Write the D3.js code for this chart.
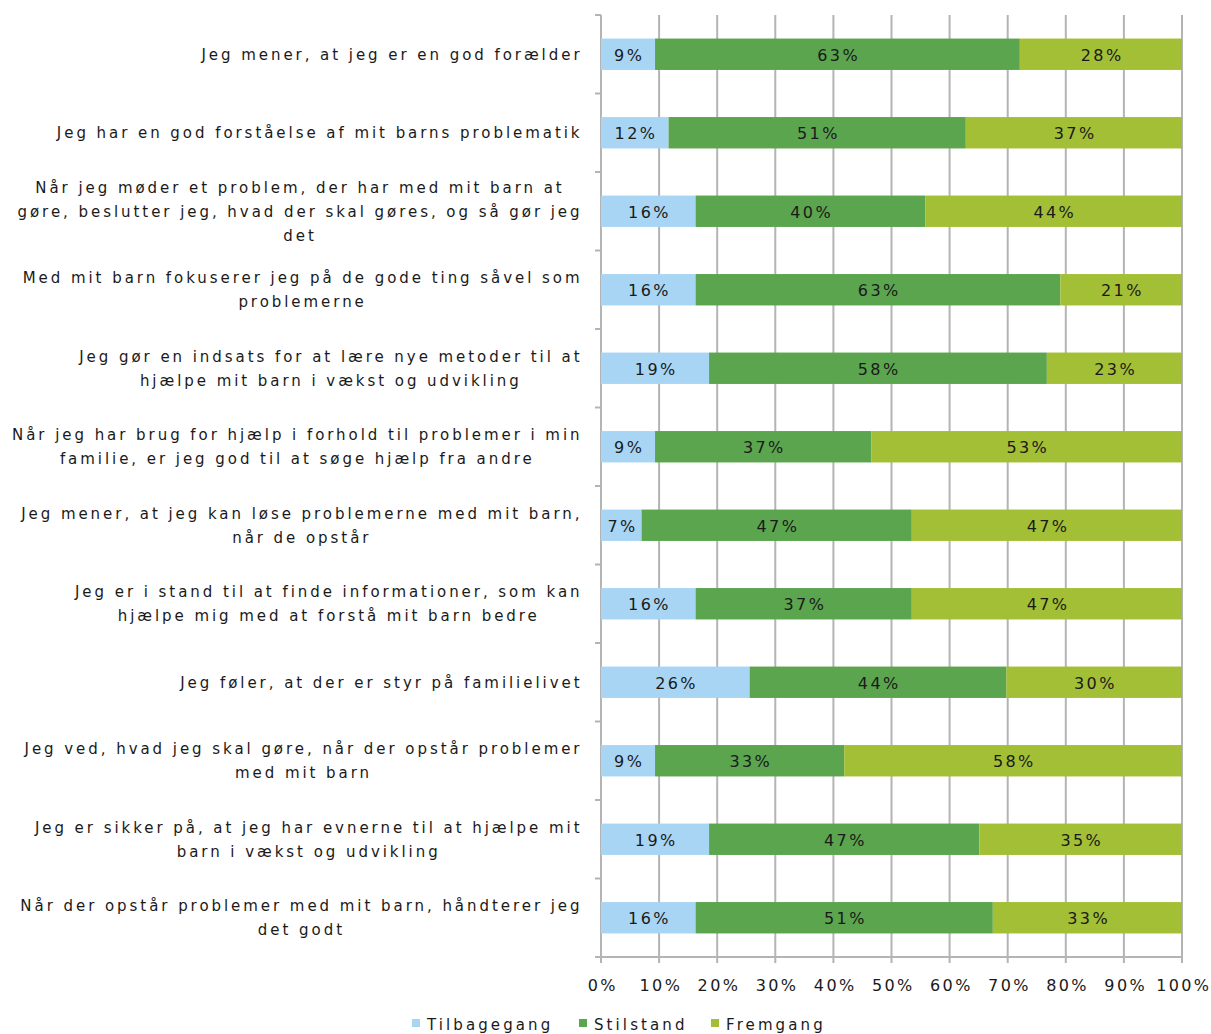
<!DOCTYPE html>
<html><head><meta charset="utf-8">
<script src="https://cdn.jsdelivr.net/npm/d3@7"></script>
<style>
body{margin:0;background:#fff;}
text{font-family:"DejaVu Sans",Verdana,sans-serif;fill:#1a1a1a;}
</style></head>
<body><svg id="c" width="1211" height="1034"></svg>
<script>
const categories = [
  "Jeg mener, at jeg er en god forælder",
  "Jeg har en god forståelse af mit barns problematik",
  "Når jeg møder et problem, der har med mit barn at\ngøre, beslutter jeg, hvad der skal gøres, og så gør jeg\ndet",
  "Med mit barn fokuserer jeg på de gode ting såvel som\nproblemerne",
  "Jeg gør en indsats for at lære nye metoder til at\nhjælpe mit barn i vækst og udvikling",
  "Når jeg har brug for hjælp i forhold til problemer i min\nfamilie, er jeg god til at søge hjælp fra andre",
  "Jeg mener, at jeg kan løse problemerne med mit barn,\nnår de opstår",
  "Jeg er i stand til at finde informationer, som kan\nhjælpe mig med at forstå mit barn bedre",
  "Jeg føler, at der er styr på familielivet",
  "Jeg ved, hvad jeg skal gøre, når der opstår problemer\nmed mit barn",
  "Jeg er sikker på, at jeg har evnerne til at hjælpe mit\nbarn i vækst og udvikling",
  "Når der opstår problemer med mit barn, håndterer jeg\ndet godt"
];
const seriesNames = ["Tilbagegang", "Stilstand", "Fremgang"];
const tilbagegang = [9.30, 11.63, 16.28, 16.28, 18.60, 9.30, 6.98, 16.28, 25.58, 9.30, 18.60, 16.28];
const stilstand   = [62.79, 51.16, 39.53, 62.79, 58.14, 37.21, 46.51, 37.21, 44.19, 32.56, 46.51, 51.16];
const fremgang    = [27.91, 37.21, 44.19, 20.93, 23.26, 53.49, 46.51, 46.51, 30.23, 58.14, 34.88, 32.56];
const tickValues  = [0,10,20,30,40,50,60,70,80,90,100];
const colors = ["#a9d5f5", "#5ba54f", "#a3bf36"];

const svg = d3.select("#c");
const pL = 601, pR = 1182, pT = 15, pB = 957;
const x = d3.scaleLinear().domain([0,100]).range([pL,pR]);
const y = d3.scaleBand().domain(d3.range(categories.length)).range([pT,pB]).paddingInner(0.6).paddingOuter(0.3);
const yb = d3.scaleBand().domain(d3.range(categories.length)).range([pT,pB]);

const rows = categories.map((c,i)=>({i, vals:[tilbagegang[i], stilstand[i], fremgang[i]]}));
const stack = d3.stack().keys([0,1,2]).value((d,k)=>d.vals[k]);
const stacked = stack(rows);

const numStyle = sel => sel.style("font-size","16px").style("letter-spacing","2.4px");

// gridlines
svg.append("g").selectAll("line").data(tickValues.slice(1)).join("line")
  .attr("x1",d=>x(d)).attr("x2",d=>x(d)).attr("y1",pT).attr("y2",pB+6)
  .attr("stroke","#b4b4b4").attr("stroke-width",2);

// x axis line + ticks
svg.append("line").attr("x1",pL).attr("x2",pR).attr("y1",pB).attr("y2",pB).attr("stroke","#b4b4b4").attr("stroke-width",2);
svg.append("line").attr("x1",pL).attr("x2",pL).attr("y1",pB).attr("y2",pB+6).attr("stroke","#b4b4b4").attr("stroke-width",2);
svg.append("g").selectAll("text").data(tickValues).join("text")
  .attr("x",d=>x(d)+1.8).attr("y",991).attr("text-anchor","middle")
  .call(numStyle)
  .text(d=>d+"%");

// y axis line + ticks
svg.append("line").attr("x1",pL).attr("x2",pL).attr("y1",pT).attr("y2",pB).attr("stroke","#b4b4b4").attr("stroke-width",2);
const edges = d3.range(categories.length+1).map(k=>pT + k*yb.bandwidth());
svg.append("g").selectAll("line").data(edges).join("line")
  .attr("x1",pL-6).attr("x2",pL).attr("y1",d=>d).attr("y2",d=>d)
  .attr("stroke","#b4b4b4").attr("stroke-width",2);

// bars
const g = svg.append("g");
stacked.forEach((s,k)=>{
  g.append("g").selectAll("rect").data(s).join("rect")
    .attr("x",d=>x(d[0])).attr("width",d=>x(d[1])-x(d[0]))
    .attr("y",d=>y(d.data.i)).attr("height",y.bandwidth())
    .attr("fill",colors[k]);
  g.append("g").selectAll("text").data(s).join("text")
    .attr("x",d=>(x(d[0])+x(d[1]))/2+1.2).attr("y",d=>y(d.data.i)+y.bandwidth()/2+6.5)
    .attr("text-anchor","middle").call(numStyle)
    .text(d=>Math.round(d.data.vals[k])+"%");
});

// category labels
const lineH = 24;
categories.forEach((c,i)=>{
  const lines = c.split("\n");
  const t = svg.append("text").attr("text-anchor","middle")
    .style("font-size","15px").style("letter-spacing","2.95px");
  const cy = yb(i)+yb.bandwidth()/2;
  const y0 = cy - (lines.length-1)*lineH/2 + 5.5;
  lines.forEach((l,j)=>t.append("tspan").attr("y",y0+j*lineH).text(l));
  let maxW = 0;
  t.selectAll("tspan").each(function(){maxW=Math.max(maxW,this.getComputedTextLength());});
  t.selectAll("tspan").attr("x",582.5-maxW/2);
});

// legend
const legX = [412, 579, 711];
seriesNames.forEach((n,k)=>{
  svg.append("rect").attr("x",legX[k]).attr("y",1019).attr("width",8).attr("height",8).attr("fill",colors[k]);
  svg.append("text").attr("x",legX[k]+15).attr("y",1030).style("font-size","15px").style("letter-spacing","3.1px").text(n);
});
</script></body></html>
